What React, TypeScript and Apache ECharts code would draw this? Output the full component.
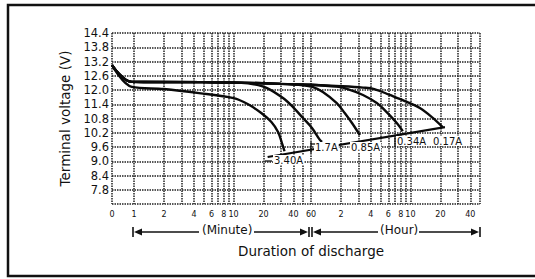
import React, { useEffect, useRef } from 'react';
import * as echarts from 'echarts';

// Duration of discharge in minutes (log axis), terminal voltage in V
const X_LABEL_VALUES = [0.6, 1, 2, 4, 6, 8, 10, 20, 40, 60, 120, 240, 360, 480, 600, 1200, 2400];
const X_LABEL_TEXT = ['0', '1', '2', '4', '6', '8', '10', '20', '40', '60', '2', '4', '6', '8', '10', '20', '40'];
const X_GRID_VALUES = [0.6, 1, 2, 3, 4, 5, 6, 7, 8, 9, 10, 20, 30, 40, 50, 60, 120, 180, 240, 300, 360, 420, 480, 540, 600, 1200, 1800, 2400, 3000];

const curve340A = [[0.6, 13.05], [0.95, 12.13], [2, 12.04], [4.5, 11.87], [10, 11.66], [14, 11.4], [19, 11.03], [24, 10.65], [28, 10.23], [31, 9.7], [32.5, 9.42]];
const curve170A = [[0.6, 13.05], [0.95, 12.34], [5, 12.33], [12, 12.3], [16, 12.24], [21.7, 12.08], [31.4, 11.66], [39.6, 11.28], [49.9, 10.82], [61.4, 10.4], [73.7, 9.9], [77.5, 9.81]];
const curve085A = [[0.6, 13.05], [0.95, 12.34], [5, 12.33], [14, 12.3], [30, 12.26], [50, 12.2], [62, 12.13], [79, 11.92], [109, 11.45], [131, 11.03], [155, 10.61], [186, 10.1]];
const curve034A = [[0.6, 13.05], [0.95, 12.34], [5, 12.33], [14, 12.3], [30, 12.26], [60, 12.22], [109, 12.14], [138, 12.05], [200, 11.79], [275, 11.45], [346, 11.07], [437, 10.61], [503, 10.27]];
const curve017A = [[0.6, 13.05], [0.95, 12.34], [5, 12.33], [14, 12.3], [30, 12.26], [60, 12.22], [120, 12.16], [200, 12.1], [260, 12.04], [372, 11.79], [552, 11.5], [745, 11.24], [984, 10.86], [1264, 10.44]];
const cutoffLine = [[22, 9.18], [1333, 10.44]];

const CURVES = [curve340A, curve170A, curve085A, curve034A, curve017A];
const CURVE_NAMES = ['3.40A', '1.7A', '0.85A', '0.34A', '0.17A'];

const FONT = "'DejaVu Sans', sans-serif";
const INK = '#111';

function xLabel(v: number): string {
  let best = 0;
  let bestD = Infinity;
  X_LABEL_VALUES.forEach((val, i) => {
    const d = Math.abs(Math.log10(v) - Math.log10(val));
    if (d < bestD) { bestD = d; best = i; }
  });
  return X_LABEL_TEXT[best];
}

export default function App() {
  const ref = useRef<HTMLDivElement>(null);

  useEffect(() => {
    if (!ref.current) return;
    const chart = echarts.init(ref.current, null, { renderer: 'svg' });
    const gridStyle = { color: '#222', width: 1.5, type: [1.5, 1] as any };

    const labelText = (text: string, x: number, y: number) => ({
      type: 'text',
      left: x,
      top: y - 6,
      style: { text, font: `10px ${FONT}`, fill: INK, backgroundColor: '#fff', padding: [0, 1] },
      z: 100,
    });
    const seg = (x1: number, y1: number, x2: number, y2: number, w = 1.3) => ({
      type: 'line',
      shape: { x1, y1, x2, y2 },
      style: { stroke: INK, lineWidth: w },
      z: 100,
    });
    const tri = (pts: number[][]) => ({
      type: 'polygon',
      shape: { points: pts },
      style: { fill: INK },
      z: 100,
    });

    const ay = 232;
    const option: any = {
      animation: false,
      backgroundColor: '#fff',
      grid: { left: 112, top: 33, width: 368, height: 171, containLabel: false, outerBoundsMode: 'none' },
      xAxis: {
        type: 'log',
        logBase: 10,
        min: 0.6,
        max: 3000,
        axisLine: { show: false },
        axisTick: { show: false, customValues: X_GRID_VALUES },
        minorTick: { show: false },
        minorSplitLine: { show: false },
        axisLabel: {
          customValues: X_LABEL_VALUES,
          formatter: (v: number) => xLabel(v),
          fontSize: 8,
          fontFamily: FONT,
          color: INK,
          margin: 6,
        },
        splitLine: { show: true, lineStyle: gridStyle },
      },
      yAxis: {
        type: 'value',
        min: 7.2,
        max: 14.4,
        interval: 0.6,
        name: 'Terminal voltage (V)',
        nameLocation: 'middle',
        nameGap: 33,
        nameTextStyle: { fontSize: 13.5, fontFamily: FONT, color: INK },
        axisLine: { show: false },
        axisTick: { show: false },
        axisLabel: {
          formatter: (v: number) => (Math.abs(v - 7.2) < 1e-6 ? '' : v.toFixed(1)),
          fontSize: 11.5,
          fontFamily: FONT,
          color: INK,
          margin: 3,
        },
        splitLine: { show: true, lineStyle: gridStyle },
      },
      series: [
        ...CURVES.map((data, i) => ({
          name: CURVE_NAMES[i],
          type: 'line',
          data,
          showSymbol: false,
          smooth: 0.35,
          lineStyle: { color: '#0a0a0a', width: 2.4 },
          z: 10,
        })),
        {
          name: 'Final voltage',
          type: 'line',
          data: cutoffLine,
          showSymbol: false,
          lineStyle: { color: '#0a0a0a', width: 2.2 },
          z: 10,
        },
      ],
      graphic: [
        {
          type: 'rect',
          shape: { x: 8, y: 5, width: 545, height: 271 },
          style: { fill: 'none', stroke: '#111', lineWidth: 2.5 },
          z: 100,
        },
        labelText('3.40A', 273, 161),
        seg(265, 161, 272, 161),
        labelText('1.7A', 314, 148),
        seg(311, 142, 311, 153),
        seg(311, 144, 315, 144),
        labelText('0.85A', 350, 148),
        labelText('0.34A', 396, 142),
        seg(395, 137, 395, 147),
        labelText('0.17A', 432, 142),
        // (Minute) arrow
        seg(133, ay - 5, 133, ay + 5, 1.6),
        tri([[134, ay], [142, ay - 3.5], [142, ay + 3.5]]),
        seg(142, ay, 199, ay),
        { type: 'text', left: 202, top: ay - 8, style: { text: '(Minute)', font: `12px ${FONT}`, fill: INK }, z: 100 },
        seg(254, ay, 302, ay),
        tri([[308, ay], [300, ay - 3.5], [300, ay + 3.5]]),
        seg(309, ay - 5, 309, ay + 5, 1.6),
        seg(312, ay - 5, 312, ay + 5, 1.6),
        tri([[313, ay], [321, ay - 3.5], [321, ay + 3.5]]),
        seg(321, ay, 378, ay),
        { type: 'text', left: 380, top: ay - 8, style: { text: '(Hour)', font: `12px ${FONT}`, fill: INK }, z: 100 },
        seg(419, ay, 472, ay),
        tri([[479, ay], [471, ay - 3.5], [471, ay + 3.5]]),
        seg(480, ay - 5, 480, ay + 5, 1.6),
        { type: 'text', left: 238, top: 244, style: { text: 'Duration of discharge', font: `13.5px ${FONT}`, fill: INK }, z: 100 },
      ],
    };
    chart.setOption(option);
    return () => chart.dispose();
  }, []);

  return <div ref={ref} style={{ position: 'fixed', left: 0, top: 0, width: 535, height: 279 }} />;
}
